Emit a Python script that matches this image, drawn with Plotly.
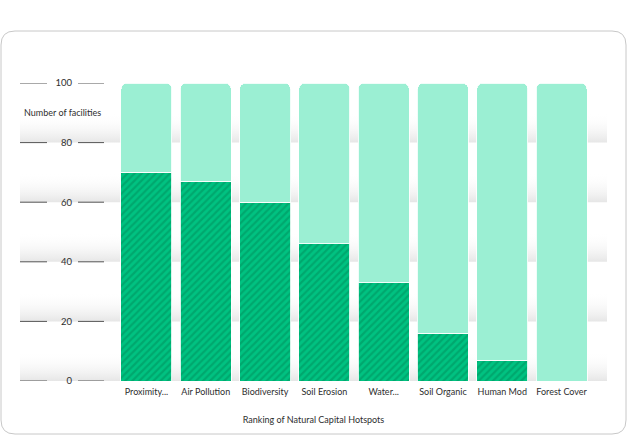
import plotly.graph_objects as go

# data
categories = ["Proximity...", "Air Pollution", "Biodiversity", "Soil Erosion",
              "Water...", "Soil Organic", "Human Mod", "Forest Cover"]
hotspot_counts = [70, 67, 60, 46, 33, 16, 7, 0]
remaining_counts = [30, 33, 40, 54, 67, 84, 93, 100]
y_ticks = [0, 20, 40, 60, 80, 100]

W, H = 627, 435
M_L, M_R, M_T, M_B = 20, 20, 83, 54
PW, PH = W - M_L - M_R, H - M_T - M_B
X_RANGE = [-2.133, 7.766]
FONT = "Lato"
TXT = "#2e2e2e"


def px_x(p):
    return (p - M_L) / PW


def px_y(p):
    return (H - M_B - p) / PH


fig = go.Figure()

# soft gradient bands in the lower half of each 20-unit band
for lo, hi in zip(y_ticks[:-1], y_ticks[1:]):
    mid = (lo + hi) / 2
    fig.add_trace(go.Scatter(
        x=[0, 1, 1, 0, 0], y=[lo, lo, mid, mid, lo],
        xaxis="x", yaxis="y", mode="lines", line=dict(width=0),
        fill="toself",
        fillgradient=dict(type="vertical",
                          colorscale=[[0, "#e6e6e6"], [1, "rgba(255,255,255,0)"]]),
        hoverinfo="skip", showlegend=False,
    ))

x_idx = list(range(len(categories)))
fig.add_trace(go.Bar(
    x=x_idx, y=hotspot_counts, xaxis="x2", yaxis="y",
    marker=dict(color="#00c281",
                line=dict(color="rgba(255,255,255,0.85)", width=1),
                pattern=dict(shape="/", fgcolor="#008d5b", bgcolor="#00c281",
                             size=5, solidity=0.45, fillmode="overlay")),
    showlegend=False,
))
fig.add_trace(go.Bar(
    x=x_idx, y=remaining_counts, xaxis="x2", yaxis="y",
    marker=dict(color="#9befd3", line=dict(color="rgba(255,255,255,0.85)", width=1)),
    showlegend=False,
))

shapes = []
for v in y_ticks:
    for a, b in [(20, 47), (78, 104)]:
        shapes.append(dict(type="line", xref="paper", yref="y",
                           x0=px_x(a), x1=px_x(b), y0=v, y1=v,
                           line=dict(color="#555555", width=1), layer="above"))

# rounded card outline
l, r, t, b, rad = px_x(1), px_x(626), px_y(31), px_y(434), 14
rx, ry = rad / PW, rad / PH
card = (f"M {l + rx} {t} L {r - rx} {t} Q {r} {t} {r} {t - ry} "
        f"L {r} {b + ry} Q {r} {b} {r - rx} {b} "
        f"L {l + rx} {b} Q {l} {b} {l} {b + ry} "
        f"L {l} {t - ry} Q {l} {t} {l + rx} {t} Z")
shapes.append(dict(type="path", xref="paper", yref="paper", path=card,
                   line=dict(color="#c8c8c8", width=1)))

fig.update_layout(
    width=W, height=H,
    margin=dict(l=M_L, r=M_R, t=M_T, b=M_B),
    paper_bgcolor="white", plot_bgcolor="white",
    font=dict(family=FONT, size=10, color=TXT),
    barmode="stack", bargap=0.14, barcornerradius=6,
    showlegend=False,
    shapes=shapes,
    xaxis=dict(range=[0, 1], visible=False, fixedrange=True),
    xaxis2=dict(overlaying="x", anchor="y", side="bottom", range=X_RANGE,
                tickvals=x_idx, ticktext=categories, showgrid=False,
                zeroline=False, showline=False, ticks="",
                ticklabelstandoff=4,
                tickfont=dict(size=9, color=TXT),
                title=dict(text="Ranking of Natural Capital Hotspots",
                           font=dict(size=9, color=TXT), standoff=20)),
    yaxis=dict(range=[0, 100], tickvals=y_ticks, showgrid=False,
               zeroline=False, showline=False, ticks="",
               anchor="free", position=px_x(72),
               tickfont=dict(size=9.5, color=TXT)),
    annotations=[dict(text="Number of facilities", xref="paper", yref="paper",
                      x=px_x(62.5), y=px_y(113), showarrow=False,
                      xanchor="center", yanchor="middle",
                      font=dict(size=9, color=TXT))],
)

# drop the default page margin so the figure sits at the window origin
fig.write_html("out.html", config={"displayModeBar": False},
               post_script="document.body.style.margin='0';")
